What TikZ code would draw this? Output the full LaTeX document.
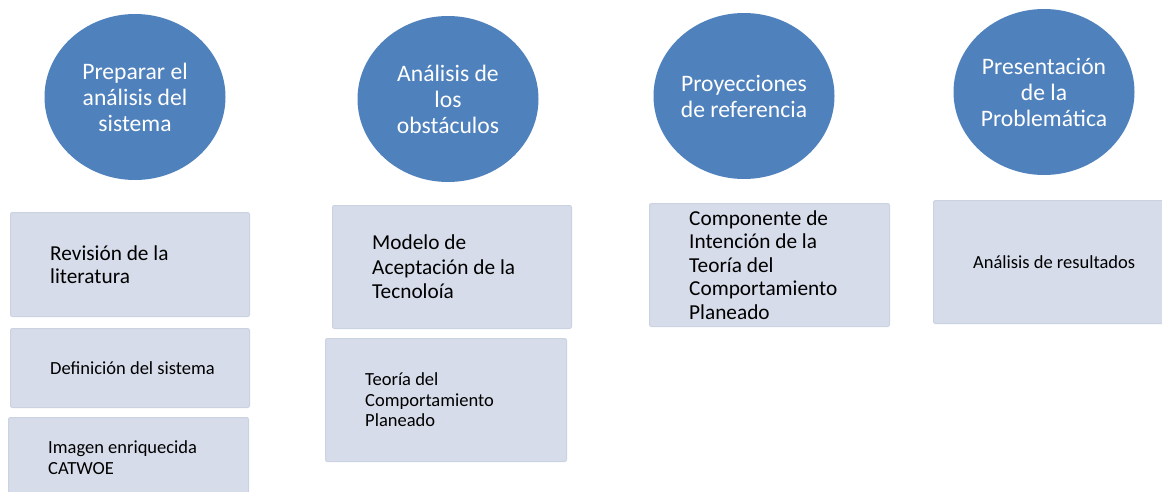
\documentclass[tikz,border=0pt]{standalone}
\usepackage{fontspec}
\setmainfont{Carlito}
\usetikzlibrary{shapes.geometric, positioning}
\definecolor{cblue}{HTML}{4F81BD}
\definecolor{cfill}{HTML}{D6DCE9}
\definecolor{cline}{HTML}{CBD2E1}
\tikzset{
  stage/.style={ellipse, fill=cblue, text=white, align=center, inner sep=0pt,
    minimum width=181pt, minimum height=166pt, font=\fontsize{23.6}{26}\selectfont},
  card/.style={draw=cline, fill=cfill, line width=1pt, rounded corners=2pt, anchor=north west},
  cardtext/.style={anchor=west, align=left, inner sep=0pt, text=black},
  big/.style={font=\fontsize{21.3}{23.5}\selectfont},
  small/.style={font=\fontsize{18.5}{20.5}\selectfont},
}

\begin{document}
\begin{tikzpicture}[x=1pt, y=-1pt]
  \useasboundingbox (0,0) rectangle (1162,492);
  \node[stage] (preparar) at (135,97) {Preparar el\\análisis del\\sistema};
  \node[stage] (obstaculos) at (448,99) {Análisis de\\los\\obstáculos};
  \node[stage] (proyecciones) at (744,96) {Proyecciones\\de referencia};
  \node[stage] (presentacion) at (1044,92) {Presentación\\de la\\Problemática};

  \node[card, minimum width=239, minimum height=104] (revision) at (10,212) {};
  \node[cardtext, big, right=40 of revision.west] (revisionT) {Revisión de la\\literatura};
  \node[card, minimum width=239, minimum height=79] (definicion) at (10,328) {};
  \node[cardtext, small, right=40 of definicion.west] (definicionT) {Definición del sistema};
  \node[card, minimum width=240, minimum height=80] (imagen) at (8,417) {};
  \node[cardtext, small, right=40 of imagen.west] (imagenT) {Imagen enriquecida\\CATWOE};

  \node[card, minimum width=239, minimum height=123] (modelo) at (332,205) {};
  \node[cardtext, font=\fontsize{21.3}{24.5}\selectfont, right=40 of modelo.west] (modeloT) {Modelo de\\Aceptación de la\\Tecnoloía};
  \node[card, minimum width=241, minimum height=123] (teoria) at (325,338) {};
  \node[cardtext, small, right=40 of teoria.west] (teoriaT) {Teoría del\\Comportamiento\\Planeado};

  \node[card, minimum width=240, minimum height=123] (componente) at (649,203) {};
  \node[cardtext, big, right=40 of componente.west] (componenteT) {Componente de\\Intención de la\\Teoría del\\Comportamiento\\Planeado};

  \node[card, minimum width=240, minimum height=123] (resultados) at (933,200) {};
  \node[cardtext, small, right=40 of resultados.west] (resultadosT) {Análisis de resultados};
\end{tikzpicture}
\end{document}
